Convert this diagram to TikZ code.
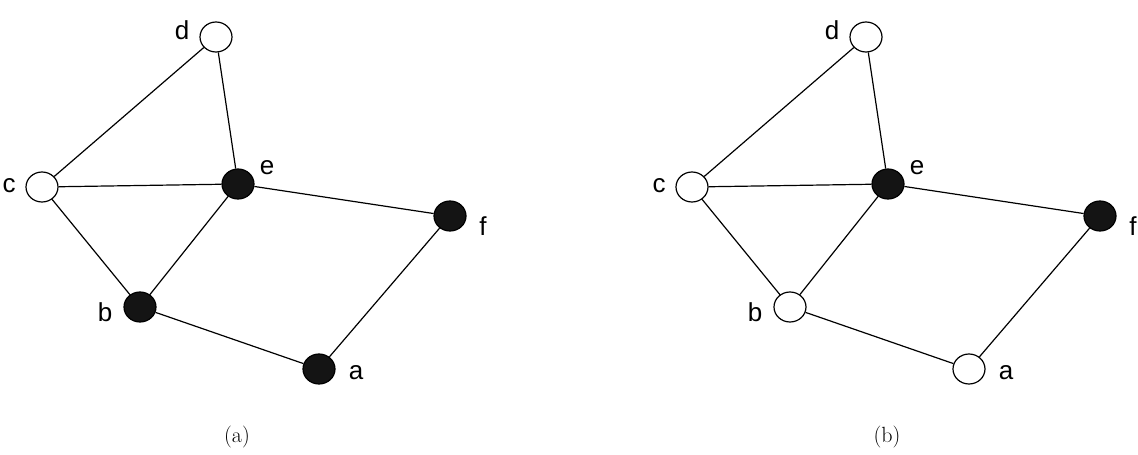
\documentclass[tikz,border=0pt]{standalone}
\usepackage{fontspec}
\newfontfamily\labelfont{Liberation Sans}
\usetikzlibrary{shapes.geometric}
\tikzset {
  x=1pt, y=-1pt,
  vertex/.style={ellipse,draw,line width=1.2pt,inner sep=0pt,
    minimum width=32pt,minimum height=30pt},
  vlabel/.style={anchor=base,font=\labelfont\fontsize{26}{30}\selectfont},
  caption/.style={anchor=base,font=\fontsize{22}{26}\selectfont},
  edge/.style={line width=1.2pt},
}

\begin{document}
\begin{tikzpicture}
  \useasboundingbox (0,0) rectangle (1138,455);
  \foreach \p/\sx/\fa/\fb in {a/0/black!92/black!92, b/650/white/white} {
    \begin{scope}[xshift=\sx]
      \node[vertex,fill=\fa] (a\p) at (319,369) {};
      \node[vertex,fill=\fb] (b\p) at (140,307) {};
      \node[vertex,fill=white] (c\p) at (42,187) {};
      \node[vertex,fill=white] (d\p) at (216,37) {};
      \node[vertex,fill=black!92] (e\p) at (238,184) {};
      \node[vertex,fill=black!92] (f\p) at (450,216) {};
      \draw[edge] (c\p) -- (d\p);
      \draw[edge] (d\p) -- (e\p);
      \draw[edge] (c\p) -- (e\p);
      \draw[edge] (c\p) -- (b\p);
      \draw[edge] (b\p) -- (e\p);
      \draw[edge] (e\p) -- (f\p);
      \draw[edge] (f\p) -- (a\p);
      \draw[edge] (b\p) -- (a\p);
      \node[vlabel] (la\p) at (356,379) {a};
      \node[vlabel] (lb\p) at (105,321) {b};
      \node[vlabel] (lc\p) at (9,192) {c};
      \node[vlabel] (ld\p) at (182,39) {d};
      \node[vlabel] (le\p) at (267,174) {e};
      \node[vlabel] (lf\p) at (483,235) {f};
      \node[caption] (cap\p) at (237,442) {(\p)};
    \end{scope}
  }
\end{tikzpicture}
\end{document}
